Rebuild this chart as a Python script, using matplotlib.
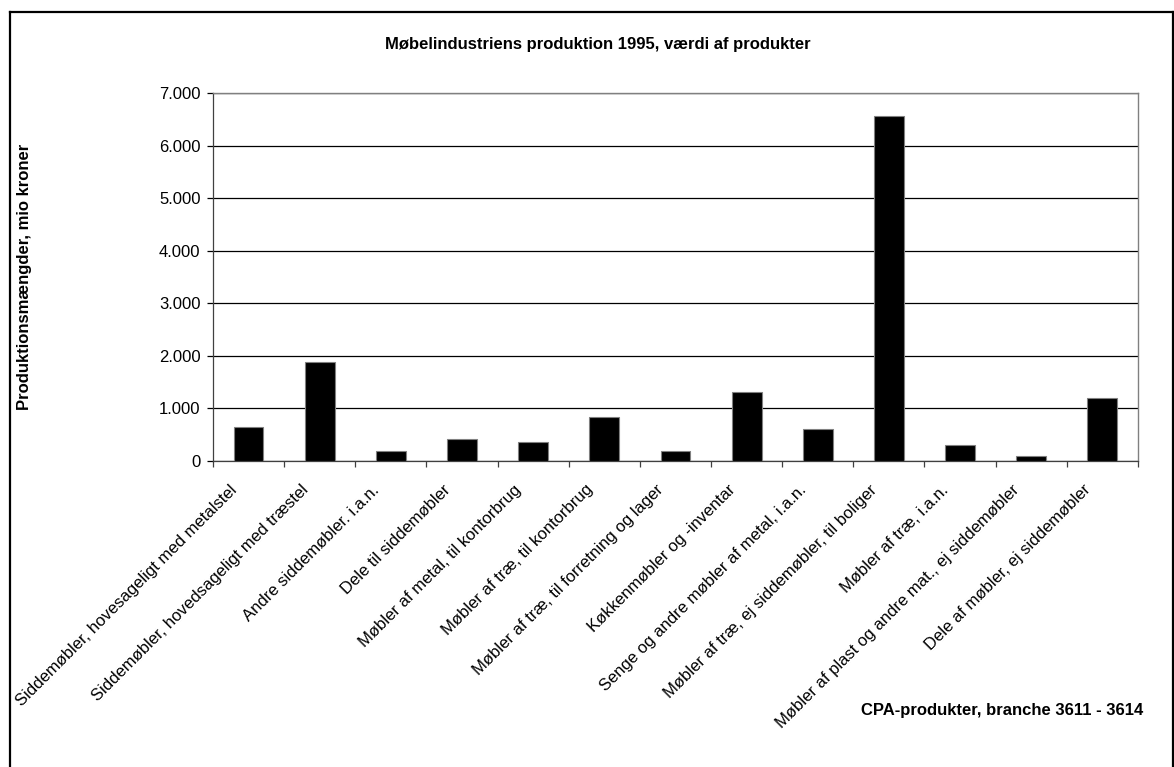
"""Furniture industry production 1995, value of products by CPA group."""

import matplotlib

matplotlib.use("Agg")
import matplotlib.pyplot as plt
from matplotlib.lines import Line2D
from matplotlib.ticker import FuncFormatter, FixedLocator
from matplotlib.transforms import ScaledTranslation

plt.rcParams["font.family"] = ["Liberation Sans", "DejaVu Sans"]

products = [
    "Siddemøbler, hovesageligt med metalstel",
    "Siddemøbler, hovedsageligt med træstel",
    "Andre siddemøbler. i.a.n.",
    "Dele til siddemøbler",
    "Møbler af metal, til kontorbrug",
    "Møbler af træ, til kontorbrug",
    "Møbler af træ, til forretning og lager",
    "Køkkenmøbler og -inventar",
    "Senge og andre møbler af metal, i.a.n.",
    "Møbler af træ, ej siddemøbler, til boliger",
    "Møbler af træ, i.a.n.",
    "Møbler af plast og andre mat., ej siddemøbler",
    "Dele af møbler, ej siddemøbler",
]
value_mio_kr = [649, 1889, 185, 414, 363, 840, 191, 1317, 611, 6571, 305, 95, 1202]
y_ticks = [0, 1000, 2000, 3000, 4000, 5000, 6000, 7000]

fig = plt.figure(figsize=(11.74, 7.67), dpi=100)
ax = fig.add_axes([0.1814, 0.3990, 0.7879, 0.4797])

x = list(range(len(products)))
ax.bar(x, value_mio_kr, width=0.42, color="black", edgecolor="#808080", linewidth=0.8, zorder=3)

ax.set_xlim(-0.5, len(products) - 0.5)
ax.set_ylim(0, 7000)
ax.set_yticks(y_ticks)
ax.yaxis.set_major_formatter(FuncFormatter(lambda v, _: f"{int(v):,}".replace(",", ".")))
ax.yaxis.grid(True, color="black", linewidth=0.9, zorder=1)
ax.tick_params(axis="y", length=4, width=0.9, color="black", labelsize=12, pad=5)

# category labels centred, tick marks on the category boundaries
ax.set_xticks(x)
ax.set_xticklabels(products, rotation=45, ha="right", va="center", rotation_mode="anchor", fontsize=12)
ax.tick_params(axis="x", which="major", length=0, pad=19)
ax.xaxis.set_minor_locator(FixedLocator([i - 0.5 for i in range(len(products) + 1)]))
ax.tick_params(axis="x", which="minor", length=4, width=0.9, color="#404040", direction="out")
shift = ScaledTranslation(-14 / 100, 0, fig.dpi_scale_trans)
for lab in ax.get_xticklabels():
    lab.set_transform(lab.get_transform() + shift)

for side in ("left", "bottom"):
    ax.spines[side].set_color("#404040")
    ax.spines[side].set_linewidth(0.9)
for side in ("top", "right"):
    ax.spines[side].set_color("#808080")
    ax.spines[side].set_linewidth(1.0)

fig.text(598 / 1174, 1 - 45 / 767, "Møbelindustriens produktion 1995, værdi af produkter",
         ha="center", va="center", fontsize=12, fontweight="bold")
fig.text(25 / 1174, 1 - 277 / 767, "Produktionsmængder, mio kroner",
         ha="center", va="center", rotation=90, fontsize=12, fontweight="bold")
fig.text(1143 / 1174, 1 - 711 / 767, "CPA-produkter, branche 3611 - 3614",
         ha="right", va="center", fontsize=12, fontweight="bold")

# chart-area border (runs off the bottom edge)
left, top, right = 9.5 / 1174, 1 - 12 / 767, 1172.5 / 1174
for xs, ys in (([left, left], [top, -0.01]), ([left, right], [top, top]), ([right, right], [top, -0.01])):
    fig.add_artist(Line2D(xs, ys, color="black", linewidth=1.6, transform=fig.transFigure))

fig.savefig("out.png", dpi=100)
